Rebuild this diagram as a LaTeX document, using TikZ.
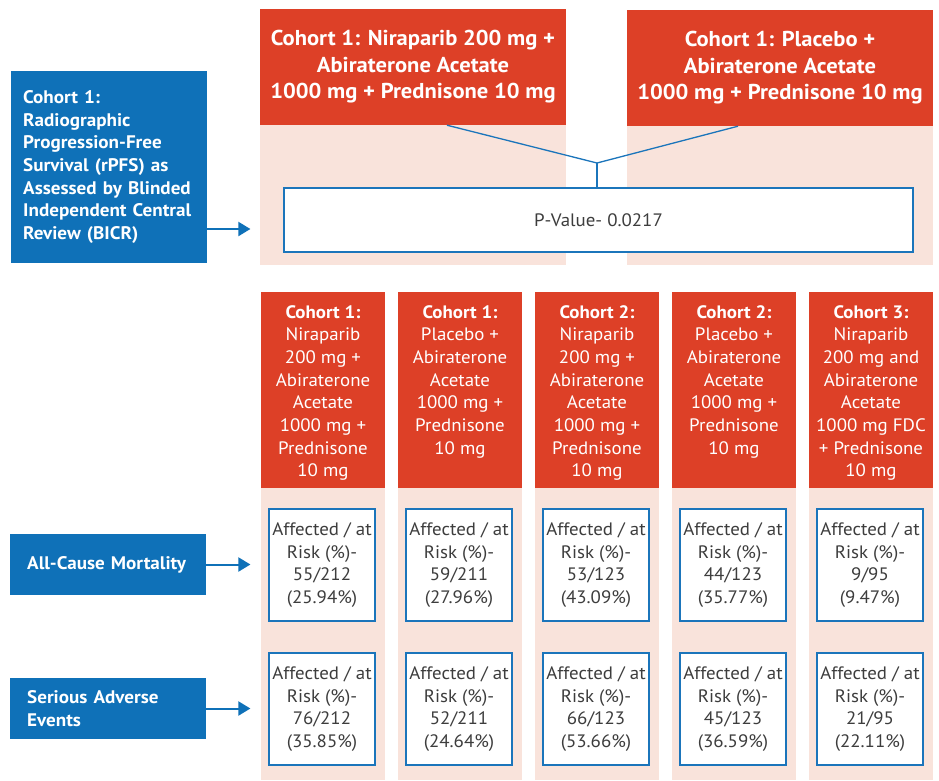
\documentclass[tikz,border=0pt]{standalone}
\usepackage{fontspec}
\setmainfont{PT Sans}[FakeStretch=1.05]
\usetikzlibrary{arrows.meta}
\definecolor{armred}{HTML}{DD4027}
\definecolor{armpink}{HTML}{F9E3DB}
\definecolor{measureblue}{HTML}{0F71B8}
\definecolor{linkblue}{HTML}{1B75BB}
\definecolor{bodygrey}{HTML}{3D3D3D}
\newcommand{\fsz}[2]{\fontsize{#1}{#2}\selectfont}
\tikzset{
  measure/.style={fill=measureblue, text=white, font=\fsz{18.2}{22.6}\bfseries,
    align=left, inner sep=0pt, anchor=west},
  armhead/.style={fill=armred, text=white, inner sep=0pt, align=center},
  armcol/.style={fill=armred, text=white, inner sep=0pt, align=center,
    minimum width=124pt, minimum height=196pt},
  resultbox/.style={draw=linkblue, line width=1.4pt, fill=white, text=bodygrey,
    font=\fsz{18}{22.6}, align=center, minimum width=106pt, minimum height=112pt,
    inner sep=0pt},
  pointer/.style={draw=measureblue, line width=2pt,
    -{Triangle[length=12pt,width=14pt]}},
  link/.style={draw=linkblue, line width=1.3pt},
}
\begin{document}
\begin{tikzpicture}[x=1pt,y=-1pt]
\useasboundingbox[fill=white] (0,0) rectangle (939,780);

% upper arm columns
\fill[armpink] (260,9) rectangle (566,265);
\fill[armpink] (627,10) rectangle (933,265);
\node[armhead, minimum width=306pt, minimum height=116pt, font=\fsz{21.5}{26.5}\bfseries]
  (topA) at (413,67) {Cohort 1: Niraparib 200 mg +\\Abiraterone Acetate\\1000 mg + Prednisone 10 mg};
\node[armhead, minimum width=306pt, minimum height=116pt, font=\fsz{21.5}{26.5}\bfseries]
  (topB) at (780,68) {Cohort 1: Placebo +\\Abiraterone Acetate\\1000 mg + Prednisone 10 mg};

\node[draw=linkblue, line width=1.3pt, fill=white, text=bodygrey, font=\fsz{18}{22},
  minimum width=629pt, minimum height=64pt, inner sep=0pt] (pval) at (598.5,220) {P-Value- 0.0217};

\coordinate (join) at (597,163);
\draw[link] ([xshift=34pt]topA.south) -- (join) -- ([xshift=-42pt]topB.south);
\draw[link] (join) -- (join |- pval.north);

% primary endpoint
\node[measure, minimum width=196pt, minimum height=192pt, inner xsep=12pt, text width=172pt]
  (rpfs) at (11,167) {Cohort 1:\\Radiographic\\Progression-Free\\Survival (rPFS) as\\Assessed by Blinded\\Independent Central\\Review (BICR)};
\draw[pointer] ([yshift=-62pt]rpfs.east) -- ++(43,0);

% lower arm columns
\foreach \x in {261,398,535,672,809}{
  \fill[armpink] (\x,292) rectangle ++(124,488);
}
\foreach \name/\x/\txt in {
  c1/323/{\textbf{Cohort 1:}\\Niraparib\\200 mg +\\Abiraterone\\Acetate\\1000 mg +\\Prednisone\\10 mg},
  c2/460/{\textbf{Cohort 1:}\\Placebo +\\Abiraterone\\Acetate\\1000 mg +\\Prednisone\\10 mg},
  c3/597/{\textbf{Cohort 2:}\\Niraparib\\200 mg +\\Abiraterone\\Acetate\\1000 mg +\\Prednisone\\10 mg},
  c4/734/{\textbf{Cohort 2:}\\Placebo +\\Abiraterone\\Acetate\\1000 mg +\\Prednisone\\10 mg},
  c5/871/{\textbf{Cohort 3:}\\Niraparib\\200 mg and\\Abiraterone\\Acetate\\1000 mg FDC\\+ Prednisone\\10 mg}}{
  \node[armcol] (\name) at (\x,390) {};
  \node[text=white, font=\fsz{18}{22.7}, align=center, anchor=north, inner sep=0pt]
    (\name txt) at (\x,305) {\txt};
}

% secondary endpoints
\node[measure, minimum width=196pt, minimum height=61pt, inner xsep=17pt, text width=162pt]
  (acm) at (10,564.5) {All-Cause Mortality};
\node[measure, minimum width=196pt, minimum height=61pt, inner xsep=17pt, text width=162pt]
  (sae) at (10,708.5) {Serious Adverse\\Events};
\draw[pointer] (acm.east) -- ++(44,0);
\draw[pointer] (sae.east) -- ++(44,0);

% results
\foreach \x/\a/\b [count=\i] in {
  322/{55/212}/{25.94\%},
  459/{59/211}/{27.96\%},
  596/{53/123}/{43.09\%},
  733/{44/123}/{35.77\%},
  870/{9/95}/{9.47\%}}{
  \node[resultbox] (m\i) at (\x,565) {Affected / at\\Risk (\%)-\\\a\\(\b)};
}
\foreach \x/\a/\b [count=\i] in {
  322/{76/212}/{35.85\%},
  459/{52/211}/{24.64\%},
  596/{66/123}/{53.66\%},
  733/{45/123}/{36.59\%},
  870/{21/95}/{22.11\%}}{
  \node[resultbox] (s\i) at (\x,709) {Affected / at\\Risk (\%)-\\\a\\(\b)};
}
\end{tikzpicture}
\end{document}
